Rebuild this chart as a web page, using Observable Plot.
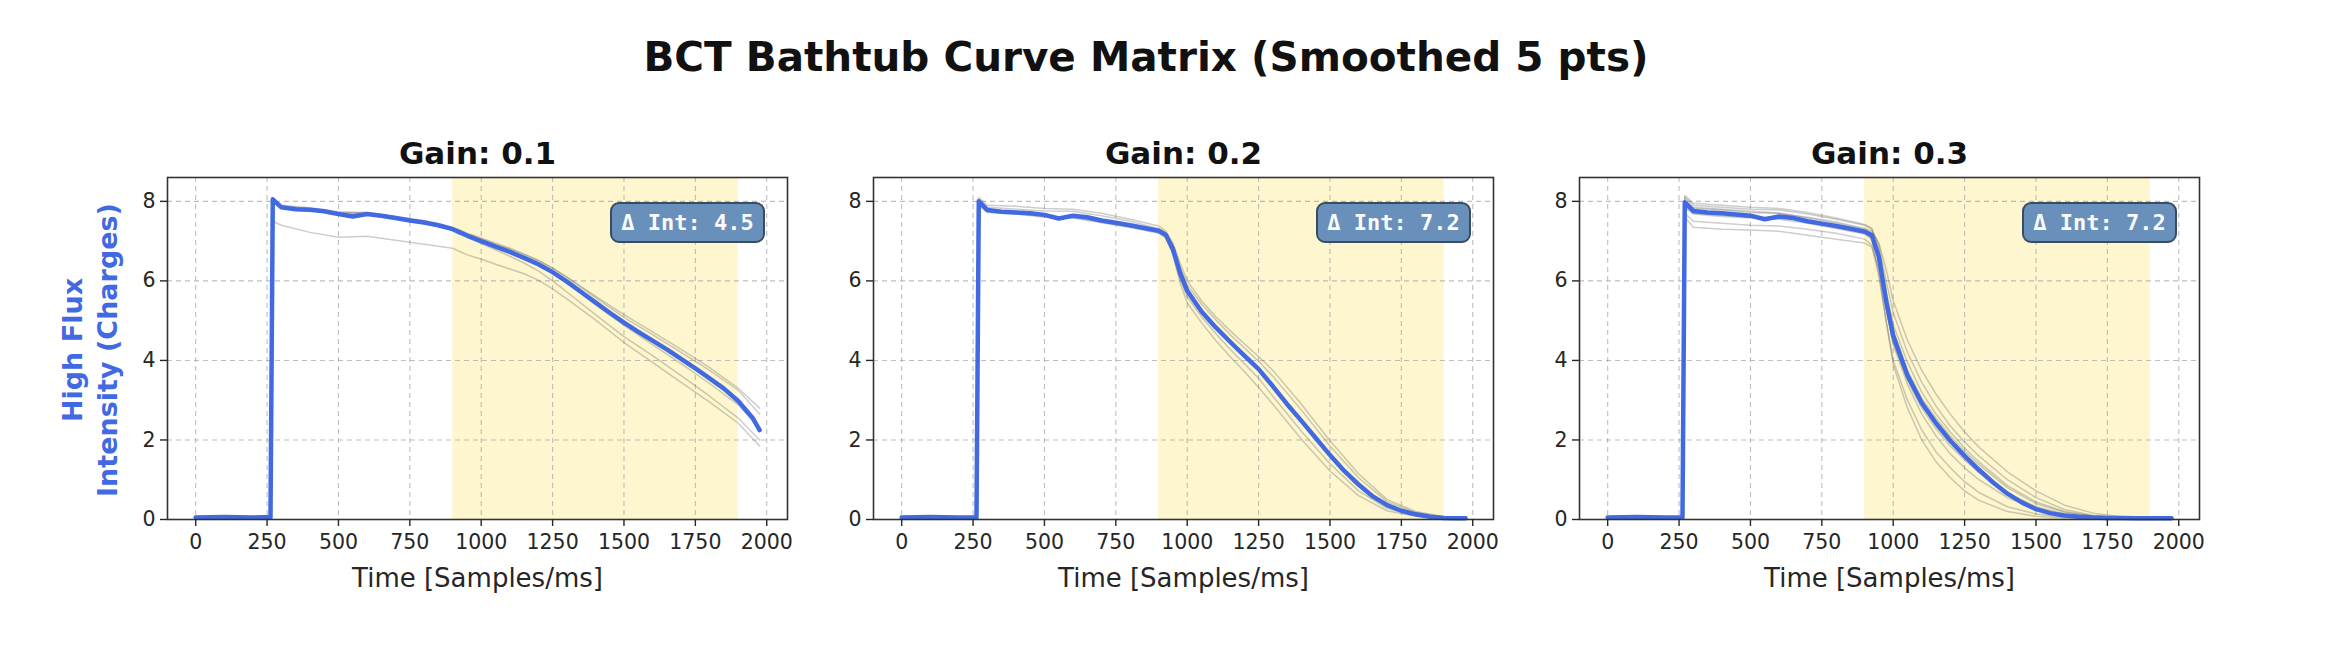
<!DOCTYPE html>
<html>
<head>
<meta charset="utf-8">
<script src="https://cdn.jsdelivr.net/npm/d3@7"></script>
<script src="https://cdn.jsdelivr.net/npm/@observablehq/plot@0.6"></script>
<style>
  html, body { margin: 0; padding: 0; background: #fff; }
  #root { position: relative; width: 2326px; height: 648px; background: #fff; font-family: "DejaVu Sans", sans-serif; overflow: hidden; }
  .abs { position: absolute; }
  #suptitle { left: 1146px; top: 37px; transform: translateX(-50%); font-weight: bold; font-size: 40.5px; line-height: 40px; color: #111; white-space: nowrap; }
  #ylabel { left: 90px; top: 350px; transform: translate(-50%, -50%) rotate(-90deg); font-weight: bold; font-size: 27px; line-height: 35px; color: royalblue; text-align: center; white-space: nowrap; }
  .annot { box-sizing: border-box; width: 155px; height: 41px; border-radius: 9px; background: #6990ba; border: 2px solid #3a4d60; color: #fafafa; font-family: "DejaVu Sans Mono", monospace; font-weight: bold; font-size: 22px; display: flex; align-items: center; justify-content: center; white-space: pre; }
</style>
</head>
<body>
<div id="root">
  <div id="suptitle" class="abs"></div>
  <div id="ylabel" class="abs"></div>
</div>
<script>
// ---------------- DATA ----------------
const chartTitle = "BCT Bathtub Curve Matrix (Smoothed 5 pts)";
const yLabelLines = ["High Flux", "Intensity (Charges)"];
const xLabel = "Time [Samples/ms]";
const gains = ["0.1", "0.2", "0.3"];
const deltaInt = [4.5, 7.2, 7.2];
const xTicks = [0, 250, 500, 750, 1000, 1250, 1500, 1750, 2000];
const yTicks = [0, 2, 4, 6, 8];
const highlightSpan = [900, 1900];

// time grid of the smoothed mean curves
const tMean = [0,100,200,258,262,270,300,350,400,450,500,550,600,650,700,750,800,850,900,925,950,975,
  1000,1050,1100,1150,1200,1250,1300,1350,1400,1450,1500,1550,1600,1650,1700,1750,1800,1850,1900,1950,1975];

const mean01 = [0.05,0.06,0.05,0.06,0.05,8.05,7.85,7.80,7.79,7.75,7.68,7.62,7.68,7.64,7.58,7.52,7.47,7.40,7.30,7.22,7.14,7.07,
  7.00,6.86,6.73,6.58,6.42,6.22,5.98,5.72,5.46,5.20,4.95,4.72,4.50,4.28,4.04,3.80,3.55,3.29,2.98,2.56,2.25];
const mean02 = [0.05,0.06,0.05,0.05,0.05,8.00,7.78,7.74,7.72,7.70,7.66,7.57,7.64,7.60,7.52,7.46,7.40,7.33,7.26,7.16,6.80,6.20,
  5.75,5.23,4.83,4.47,4.12,3.78,3.35,2.90,2.48,2.05,1.62,1.22,0.88,0.58,0.36,0.22,0.13,0.07,0.04,0.03,0.03];
const mean03 = [0.05,0.06,0.05,0.05,0.05,7.98,7.76,7.72,7.70,7.67,7.64,7.55,7.62,7.58,7.50,7.44,7.38,7.31,7.24,7.15,6.60,5.50,
  4.62,3.62,2.93,2.42,1.98,1.60,1.25,0.93,0.65,0.43,0.26,0.16,0.10,0.07,0.05,0.04,0.04,0.03,0.03,0.03,0.03];

// time grid of the individual runs (grey)
const tRuns = [0,200,262,270,300,400,500,600,700,800,900,925,950,975,1000,1050,1100,1150,1200,1250,1300,1400,1500,1600,1700,1800,1900,1975];

const runs01 = [
  [0.04,0.05,0.04,7.50,7.40,7.22,7.10,7.12,7.02,6.92,6.82,6.74,6.66,6.60,6.55,6.42,6.30,6.18,6.02,5.80,5.55,5.02,4.45,3.95,3.45,2.95,2.42,1.85],
  [0.05,0.05,0.05,8.10,7.90,7.84,7.74,7.72,7.62,7.52,7.35,7.28,7.20,7.14,7.08,6.95,6.82,6.68,6.52,6.32,6.10,5.62,5.15,4.72,4.28,3.82,3.30,2.80],
  [0.05,0.05,0.05,8.00,7.82,7.78,7.66,7.66,7.55,7.45,7.28,7.20,7.10,7.02,6.94,6.78,6.62,6.45,6.25,6.00,5.72,5.15,4.60,4.12,3.62,3.10,2.55,2.00],
  [0.05,0.05,0.05,8.08,7.88,7.82,7.72,7.70,7.60,7.50,7.33,7.26,7.18,7.12,7.05,6.92,6.80,6.66,6.50,6.32,6.08,5.58,5.08,4.65,4.20,3.75,3.25,2.65],
  [0.05,0.05,0.05,8.02,7.84,7.80,7.70,7.70,7.58,7.48,7.30,7.22,7.15,7.08,7.02,6.88,6.74,6.60,6.42,6.20,5.95,5.40,4.88,4.40,3.92,3.42,2.88,2.30]
];
const runs02 = [
  [0.05,0.05,0.05,8.05,7.85,7.80,7.76,7.75,7.64,7.50,7.32,7.20,6.90,6.35,5.90,5.42,5.02,4.65,4.32,3.98,3.60,2.75,1.85,1.05,0.45,0.17,0.06,0.04],
  [0.05,0.05,0.05,7.95,7.75,7.70,7.62,7.60,7.48,7.36,7.22,7.10,6.70,6.05,5.60,5.10,4.68,4.28,3.92,3.55,3.10,2.22,1.40,0.72,0.28,0.10,0.04,0.03],
  [0.04,0.05,0.04,7.90,7.72,7.68,7.60,7.58,7.46,7.34,7.20,7.08,6.65,5.95,5.45,4.95,4.50,4.10,3.72,3.32,2.90,2.02,1.22,0.60,0.22,0.08,0.03,0.03],
  [0.05,0.06,0.05,8.10,7.90,7.88,7.82,7.80,7.70,7.55,7.38,7.25,6.95,6.45,6.00,5.50,5.10,4.75,4.42,4.10,3.75,2.90,1.98,1.15,0.50,0.20,0.07,0.04]
];
const runs03 = [
  [0.05,0.05,0.05,8.10,7.90,7.85,7.80,7.78,7.68,7.55,7.40,7.30,6.90,6.00,5.20,4.20,3.45,2.85,2.35,1.95,1.60,1.00,0.55,0.25,0.10,0.05,0.04,0.04],
  [0.04,0.05,0.04,7.70,7.50,7.45,7.40,7.38,7.30,7.20,7.05,6.90,6.10,5.00,4.00,3.00,2.25,1.70,1.30,0.95,0.68,0.32,0.14,0.06,0.04,0.03,0.03,0.03],
  [0.05,0.06,0.05,7.95,7.82,7.78,7.72,7.70,7.58,7.45,7.30,7.20,6.70,5.60,4.75,3.75,3.05,2.55,2.10,1.72,1.38,0.80,0.40,0.18,0.08,0.05,0.04,0.03],
  [0.05,0.05,0.05,7.60,7.35,7.30,7.28,7.25,7.15,7.05,6.95,6.85,6.30,5.30,4.40,3.40,2.65,2.10,1.65,1.30,1.00,0.55,0.26,0.11,0.05,0.04,0.03,0.03],
  [0.05,0.05,0.05,7.90,7.70,7.65,7.60,7.60,7.50,7.38,7.20,7.05,6.20,5.00,3.90,2.80,2.00,1.45,1.05,0.72,0.48,0.20,0.08,0.04,0.03,0.03,0.03,0.03],
  [0.05,0.05,0.05,8.00,7.85,7.80,7.75,7.70,7.60,7.48,7.32,7.25,6.95,6.30,5.50,4.50,3.75,3.15,2.65,2.20,1.82,1.20,0.72,0.36,0.16,0.07,0.05,0.04],
  [0.04,0.05,0.05,7.85,7.68,7.62,7.58,7.55,7.45,7.32,7.18,7.08,6.50,5.35,4.45,3.50,2.80,2.28,1.85,1.50,1.18,0.66,0.32,0.14,0.06,0.04,0.03,0.03],
  [0.05,0.05,0.05,8.15,7.95,7.90,7.85,7.82,7.72,7.58,7.42,7.32,6.80,5.75,4.90,3.95,3.20,2.65,2.20,1.80,1.45,0.85,0.44,0.20,0.09,0.05,0.04,0.04]
];

const means = [mean01, mean02, mean03];
const runSets = [runs01, runs02, runs03];

// ---------------- LAYOUT ----------------
const frameLefts = [167, 873, 1579];
const frameW = 620, frameH = 342, frameTop = 177;
const mL = 60, mR = 20, mT = 77, mB = 100;
const svgTop = frameTop - mT;

const root = document.getElementById("root");
document.getElementById("suptitle").textContent = chartTitle;
document.getElementById("ylabel").innerHTML = yLabelLines.map(s => `<div>${s}</div>`).join("");

gains.forEach((g, i) => {
  const meanData = tMean.map((t, k) => ({t, v: means[i][k]}));
  const runData = runSets[i].flatMap((arr, r) => tRuns.map((t, k) => ({run: r, t, v: arr[k]})));
  const plot = Plot.plot({
    width: mL + frameW + mR,
    height: mT + frameH + mB,
    marginLeft: mL, marginRight: mR, marginTop: mT, marginBottom: mB,
    x: {domain: [-98.7, 2072.7]},
    y: {domain: [0, 8.6]},
    style: {fontFamily: "DejaVu Sans", fontSize: "20.5px", color: "#262626", background: "transparent", overflow: "visible"},
    marks: [
      Plot.rect([highlightSpan], {x1: d => d[0], x2: d => d[1], fill: "#fdf6cf"}),
      Plot.gridX({ticks: xTicks, stroke: "#a8a8a8", strokeOpacity: 0.75, strokeDasharray: "5,4", strokeWidth: 1.1}),
      Plot.gridY({ticks: yTicks, stroke: "#a8a8a8", strokeOpacity: 0.75, strokeDasharray: "5,4", strokeWidth: 1.1}),
      Plot.line(runData, {x: "t", y: "v", z: "run", stroke: "#5a5a5a", strokeOpacity: 0.3, strokeWidth: 1.5}),
      Plot.line(meanData, {x: "t", y: "v", stroke: "royalblue", strokeWidth: 4.5, strokeLinejoin: "round"}),
      Plot.frame({stroke: "#333", strokeWidth: 1.6}),
      Plot.axisX({ticks: xTicks, tickFormat: d => String(d), tickSize: 7, tickPadding: 8, label: null, strokeWidth: 1.4}),
      Plot.axisY({ticks: yTicks, tickFormat: d => String(d), tickSize: 7, tickPadding: 5, label: null, strokeWidth: 1.4}),
      Plot.text([`Gain: ${g}`], {text: d => d, frameAnchor: "top", lineAnchor: "middle", dy: -23, fontSize: 31, fontWeight: "bold", fill: "#111"}),
      Plot.text([xLabel], {text: d => d, frameAnchor: "bottom", lineAnchor: "middle", dy: 59, fontSize: 26, fill: "#262626"})
    ]
  });
  plot.style.position = "absolute";
  plot.style.left = (frameLefts[i] - mL) + "px";
  plot.style.top = svgTop + "px";
  root.appendChild(plot);

  const box = document.createElement("div");
  box.className = "abs annot";
  box.textContent = `Δ Int: ${deltaInt[i].toFixed(1)}`;
  box.style.left = (frameLefts[i] + frameW - 22 - 155) + "px";
  box.style.top = (frameTop + 25) + "px";
  root.appendChild(box);
});
</script>
</body>
</html>
